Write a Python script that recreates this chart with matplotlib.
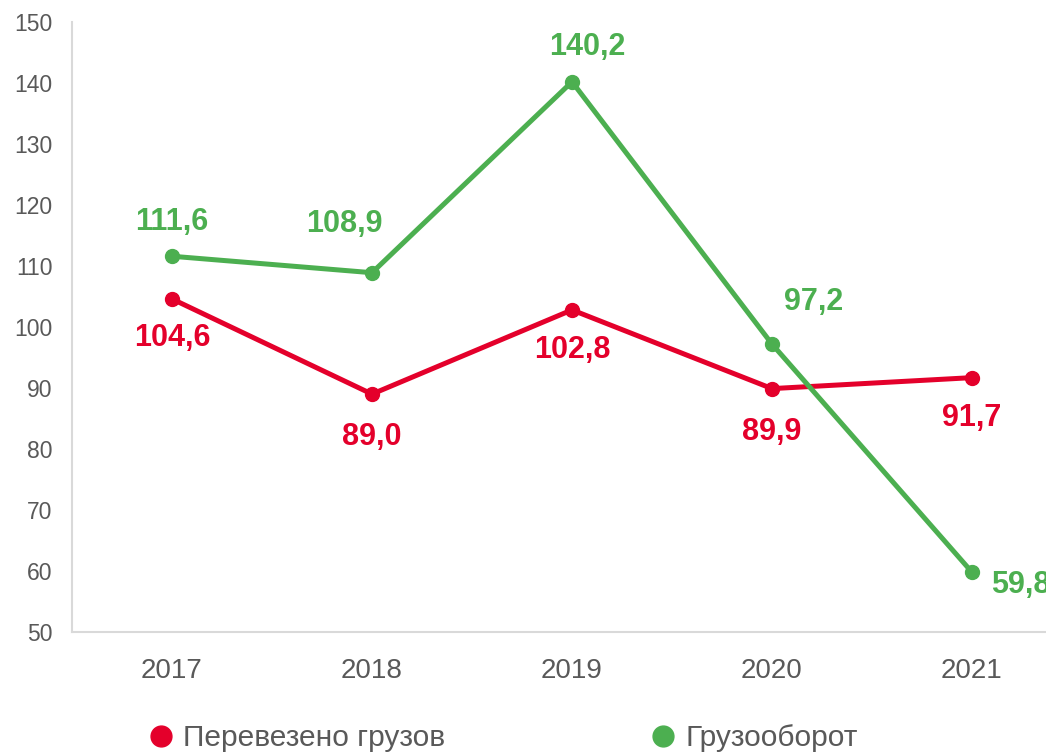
import matplotlib
matplotlib.use("Agg")
import matplotlib.pyplot as plt
from matplotlib.lines import Line2D

plt.rcParams['font.family'] = ['Liberation Sans', 'DejaVu Sans']

years = ["2017", "2018", "2019", "2020", "2021"]
cargo = [104.6, 89.0, 102.8, 89.9, 91.7]
turnover = [111.6, 108.9, 140.2, 97.2, 59.8]
cargo_labels = ["104,6", "89,0", "102,8", "89,9", "91,7"]
turnover_labels = ["111,6", "108,9", "140,2", "97,2", "59,8"]
series_names = ["Перевезено грузов", "Грузооборот"]

RED = "#E4002B"
GREEN = "#4CAF50"
GREY = "#595959"

fig = plt.figure(figsize=(10.46, 7.54), dpi=100)
ax = fig.add_axes([72/1046, 1-632/754, 1-72/1046, (632-22)/754])

x = list(range(len(years)))
ax.plot(x, cargo, color=RED, lw=3.6, marker='o', ms=10, zorder=3, clip_on=False)
ax.plot(x, turnover, color=GREEN, lw=3.6, marker='o', ms=10, zorder=3, clip_on=False)

# label offsets (points)
red_off = [(0, -28), (0, -31), (0, -29), (0, -31), (0, -29)]
green_off = [(0, 25), (-20, 35), (11, 25), (30, 30), (14, -9)]
for i in range(5):
    ax.annotate(cargo_labels[i], (x[i], cargo[i]), xytext=red_off[i], textcoords='offset points',
                ha='center', va='center', color=RED, fontsize=22, fontweight='bold', annotation_clip=False)
for i in range(5):
    ha = 'left' if i == 4 else 'center'
    ax.annotate(turnover_labels[i], (x[i], turnover[i]), xytext=green_off[i], textcoords='offset points',
                ha=ha, va='center', color=GREEN, fontsize=22, fontweight='bold', annotation_clip=False)

ax.set_xlim(-0.5, -0.5 + (1046-72)/200)
ax.set_ylim(50, 150)
ax.set_yticks(range(50, 151, 10))
ax.set_xticks(x)
ax.set_xticklabels(years)
ax.tick_params(axis='x', length=0, labelsize=20, colors=GREY, pad=19)
ax.tick_params(axis='y', length=0, labelsize=16.5, colors=GREY, pad=14)
for s in ['top', 'right']:
    ax.spines[s].set_visible(False)
for s in ['left', 'bottom']:
    ax.spines[s].set_color('#D9D9D9')
    ax.spines[s].set_linewidth(1.5)

handles = [Line2D([], [], ls='none', marker='o', ms=15, color=RED),
           Line2D([], [], ls='none', marker='o', ms=15, color=GREEN)]
leg = fig.legend(handles, series_names, loc='center', bbox_to_anchor=(502/1046, 1-738/754), ncol=2,
                 frameon=False, fontsize=21.5, handletextpad=0.25, columnspacing=6.8,
                 labelcolor=GREY, handlelength=1.0, borderpad=0.2)

fig.savefig("out.png", dpi=100)
